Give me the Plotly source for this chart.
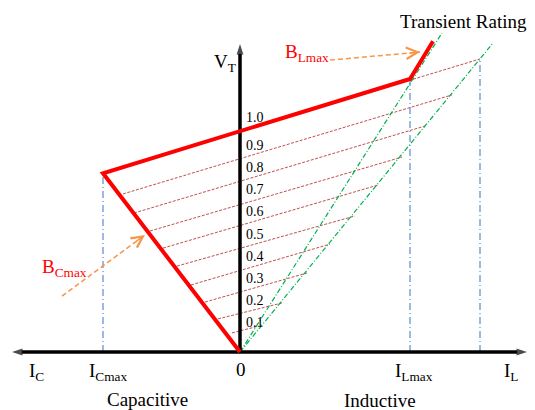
import plotly.graph_objects as go

# ---------------- data (I: current units, V: per-unit voltage) ----------------
tick_values = [0.1, 0.2, 0.3, 0.4, 0.5, 0.6, 0.7, 0.8, 0.9, 1.0]
tick_labels = ["0.1", "0.2", "0.3", "0.4", "0.5", "0.6", "0.7", "0.8", "0.9", "1.0"]

I_cmax, V_cmax = -137, 0.805      # B_Cmax corner
I_lmax, V_lmax = 170, 1.23        # B_Lmax corner
I_tr, V_tr = 193, 1.40            # transient rating end
I_ext, V_ext = 240, 1.32          # end of dashed extension on 2nd inductive line

red_I = [0, I_cmax, I_lmax, I_tr]
red_V = [0, V_cmax, V_lmax, V_tr]

green1_I = [0, 202]
green1_V = [0, 1.437]
green2_I = [0, 253]
green2_V = [0, 1.392]

slope_start_I = [-117, -106, -90, -77, -63, -49, -35, -22, -8]
slope_start_V = [0.712, 0.626, 0.545, 0.468, 0.387, 0.302, 0.225, 0.149, 0.086]
slope_end_I = [212, 185, 162, 138, 115, 90, 67, 42, 19]
slope_end_V = [1.158, 1.018, 0.878, 0.752, 0.613, 0.486, 0.356, 0.221, 0.117]

axis_left_I, axis_right_I, axis_top_V = -228, 287, 1.387

# ---------------- figure ----------------
fig = go.Figure()
FONT = "Liberation Serif"
RED = "#FF0000"
THIN = "#C0504D"
GREEN = "#00B050"
BLUE = "#5B8BD0"
ORANGE = "#F79646"

# thin slope lines
for si, sv, ei, ev in zip(slope_start_I, slope_start_V, slope_end_I, slope_end_V):
    fig.add_trace(go.Scatter(x=[si, ei], y=[sv, ev], mode="lines",
                             line=dict(color=THIN, width=1, dash="3px,1.5px"),
                             hoverinfo="skip", showlegend=False))
# dashed extension of top line
fig.add_trace(go.Scatter(x=[I_cmax, I_ext], y=[V_cmax, V_ext], mode="lines",
                         line=dict(color=THIN, width=1, dash="3px,1.5px"),
                         hoverinfo="skip", showlegend=False))

# blue verticals
for bi, bv in [(I_cmax, V_cmax), (I_lmax, V_lmax), (I_ext, V_ext)]:
    fig.add_trace(go.Scatter(x=[bi, bi], y=[0, bv], mode="lines",
                             line=dict(color=BLUE, width=1.2, dash="7px,3px,1px,3px"),
                             hoverinfo="skip", showlegend=False))

# green lines
for gi, gv in [(green1_I, green1_V), (green2_I, green2_V)]:
    fig.add_trace(go.Scatter(x=gi, y=gv, mode="lines",
                             line=dict(color=GREEN, width=1.2, dash="5px,2px,1px,2px"),
                             hoverinfo="skip", showlegend=False))

# axes with arrowheads
for xs, ys in [([0, axis_left_I], [0, 0]), ([0, axis_right_I], [0, 0]), ([0, 0], [0, axis_top_V])]:
    fig.add_trace(go.Scatter(x=xs, y=ys, mode="lines+markers",
                             line=dict(color="black", width=3.5),
                             marker=dict(symbol="arrow", size=[0, 11], angleref="previous",
                                         color="black", line=dict(width=0)),
                             hoverinfo="skip", showlegend=False))

# red characteristic
fig.add_trace(go.Scatter(x=red_I, y=red_V, mode="lines",
                         line=dict(color=RED, width=4),
                         hoverinfo="skip", showlegend=False))

# orange dashed pointer arrows (dashed shaft + open chevron head)
arrows = [
    dict(I=[90, 180], V=[1.315, 1.351], head_dx=-12, head_dy=1),
    dict(I=[-178, -95], V=[0.252, 0.527], head_dx=-10, head_dy=7),
]
for a in arrows:
    fig.add_trace(go.Scatter(x=a["I"], y=a["V"], mode="lines",
                             line=dict(color=ORANGE, width=1.5, dash="5px,3px"),
                             hoverinfo="skip", showlegend=False))
    fig.add_annotation(x=a["I"][1], y=a["V"][1], ax=a["head_dx"], ay=a["head_dy"],
                       showarrow=True, arrowhead=5, arrowwidth=1.4, arrowsize=1.6,
                       arrowcolor=ORANGE, text="")

# tick labels on V axis
for v, lab in zip(tick_values, tick_labels):
    fig.add_annotation(x=4, y=v, text=lab, showarrow=False, xanchor="left", yanchor="middle",
                       yshift=(13 if v == 1.0 else 7),
                       font=dict(family=FONT, size=14, color="black"))

def label(x, y, text, color="black", xanchor="left", size=19):
    fig.add_annotation(x=x, y=y, text=text, showarrow=False, xanchor=xanchor, yanchor="middle",
                       font=dict(family=FONT, size=size, color=color))

label(223, 1.491, "Transient Rating", xanchor="center")
label(-28, 1.30, "V<sub>T</sub>")
label(43, 1.345, "B<sub>Lmax</sub>", color=RED)
label(-200, 0.38, "B<sub>Cmax</sub>", color=RED)
label(-213, -0.09, "I<sub>C</sub>")
label(-153, -0.09, "I<sub>Cmax</sub>")
label(1, -0.081, "0", xanchor="center")
label(153, -0.09, "I<sub>Lmax</sub>")
label(262, -0.09, "I<sub>L</sub>")
label(-93, -0.216, "Capacitive", xanchor="center")
label(140, -0.22, "Inductive", xanchor="center")

# the page body has an 8px margin; size the figure so that it fills the window exactly
fig.update_layout(
    width=527, height=402,
    margin=dict(l=0, r=0, t=0, b=0),
    paper_bgcolor="white", plot_bgcolor="white",
    xaxis=dict(range=[-232, 295], visible=False, fixedrange=True),
    yaxis=dict(range=[-58 / 222, 344 / 222], visible=False, fixedrange=True),
    showlegend=False,
)

fig.write_html("out.html")
